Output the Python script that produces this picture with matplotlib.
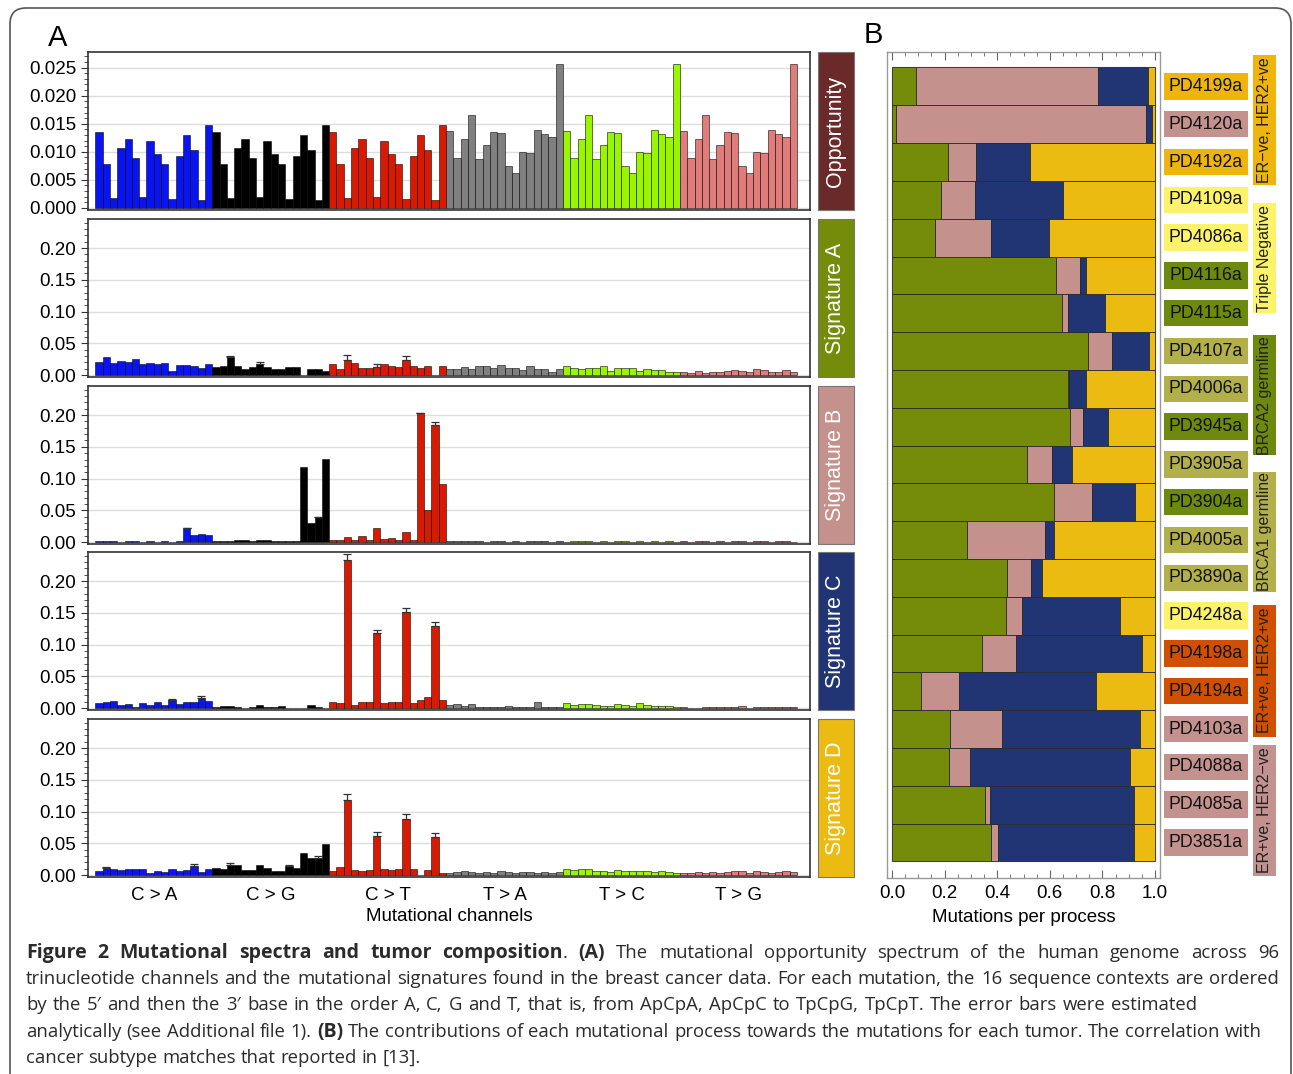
import matplotlib
matplotlib.use("Agg")
import matplotlib.pyplot as plt
import matplotlib.transforms as mtransforms
from matplotlib.patches import Rectangle, FancyBboxPatch
from matplotlib.ticker import MultipleLocator

# ---- panel A data : 96 trinucleotide channels (6 types x 16 contexts) ----
mut_types = ["C > A", "C > G", "C > T", "T > A", "T > C", "T > G"]
type_colours = ["#0a14f0", "#000000", "#d81a02", "#808080", "#99f500", "#e07c7a"]

# opportunity: the C-based and T-based context profiles
opp_c = [0.01347, 0.00777, 0.00166, 0.01074, 0.01229, 0.00884, 0.00184, 0.01187,
         0.00962, 0.00789, 0.00148, 0.00932, 0.01306, 0.01033, 0.00143, 0.01479]
opp_t = [0.01377, 0.00891, 0.01229, 0.01662, 0.00866, 0.01123, 0.01354, 0.01336,
         0.00754, 0.00629, 0.01003, 0.00973, 0.01390, 0.01319, 0.01265, 0.02566]
opportunity = opp_c + opp_c + opp_c + opp_t + opp_t + opp_t

sig_a = [0.0210, 0.0289, 0.0184, 0.0220, 0.0200, 0.0252, 0.0168, 0.0194, 0.0168, 0.0194, 0.0068, 0.0158, 0.0158, 0.0147, 0.0116, 0.0168,
         0.0131, 0.0147, 0.0278, 0.0147, 0.0100, 0.0131, 0.0179, 0.0131, 0.0089, 0.0100, 0.0131, 0.0131, 0.0005, 0.0100, 0.0089, 0.0068,
         0.0168, 0.0100, 0.0236, 0.0194, 0.0110, 0.0110, 0.0131, 0.0173, 0.0147, 0.0121, 0.0236, 0.0142, 0.0116, 0.0147, 0.0005, 0.0142,
         0.0089, 0.0095, 0.0121, 0.0100, 0.0142, 0.0142, 0.0116, 0.0163, 0.0116, 0.0116, 0.0079, 0.0142, 0.0089, 0.0089, 0.0053, 0.0089,
         0.0142, 0.0116, 0.0095, 0.0116, 0.0116, 0.0147, 0.0068, 0.0116, 0.0116, 0.0105, 0.0063, 0.0095, 0.0084, 0.0074, 0.0053, 0.0047,
         0.0042, 0.0026, 0.0068, 0.0037, 0.0053, 0.0053, 0.0063, 0.0084, 0.0068, 0.0053, 0.0100, 0.0084, 0.0053, 0.0042, 0.0084, 0.0053]
sig_b = [0.0020, 0.0010, 0.0020, 0.0005, 0.0020, 0.0020, 0.0005, 0.0020, 0.0005, 0.0020, 0.0005, 0.0020, 0.0215, 0.0110, 0.0120, 0.0105,
         0.0020, 0.0010, 0.0010, 0.0030, 0.0030, 0.0010, 0.0035, 0.0035, 0.0010, 0.0010, 0.0020, 0.0020, 0.1180, 0.0305, 0.0390, 0.1310,
         0.0030, 0.0026, 0.0079, 0.0026, 0.0089, 0.0030, 0.0215, 0.0047, 0.0058, 0.0030, 0.0163, 0.0030, 0.2027, 0.0510, 0.1850, 0.0920,
         0.0010, 0.0015, 0.0010, 0.0012, 0.0010, 0.0008, 0.0010, 0.0012, 0.0008, 0.0010, 0.0008, 0.0010, 0.0012, 0.0010, 0.0008, 0.0010,
         0.0008, 0.0010, 0.0012, 0.0010, 0.0008, 0.0010, 0.0008, 0.0010, 0.0012, 0.0008, 0.0010, 0.0008, 0.0010, 0.0008, 0.0010, 0.0008,
         0.0010, 0.0008, 0.0010, 0.0012, 0.0008, 0.0010, 0.0008, 0.0010, 0.0010, 0.0008, 0.0012, 0.0010, 0.0008, 0.0010, 0.0015, 0.0008]
sig_c = [0.0074, 0.0095, 0.0105, 0.0047, 0.0058, 0.0016, 0.0074, 0.0047, 0.0100, 0.0053, 0.0126, 0.0063, 0.0100, 0.0089, 0.0158, 0.0110,
         0.0016, 0.0037, 0.0032, 0.0016, 0.0005, 0.0010, 0.0053, 0.0016, 0.0016, 0.0026, 0.0005, 0.0005, 0.0005, 0.0042, 0.0016, 0.0005,
         0.0089, 0.0074, 0.2330, 0.0042, 0.0089, 0.0100, 0.1187, 0.0079, 0.0095, 0.0100, 0.1507, 0.0074, 0.0126, 0.0179, 0.1297, 0.0121,
         0.0047, 0.0063, 0.0032, 0.0063, 0.0010, 0.0010, 0.0010, 0.0010, 0.0026, 0.0010, 0.0010, 0.0010, 0.0095, 0.0010, 0.0010, 0.0010,
         0.0074, 0.0047, 0.0058, 0.0058, 0.0042, 0.0037, 0.0026, 0.0063, 0.0053, 0.0037, 0.0074, 0.0047, 0.0037, 0.0037, 0.0032, 0.0021,
         0.0010, 0.0005, 0.0003, 0.0016, 0.0010, 0.0010, 0.0010, 0.0010, 0.0032, 0.0005, 0.0010, 0.0021, 0.0010, 0.0010, 0.0021, 0.0010]
sig_d = [0.0062, 0.0113, 0.0098, 0.0077, 0.0098, 0.0093, 0.0098, 0.0031, 0.0062, 0.0046, 0.0098, 0.0057, 0.0082, 0.0149, 0.0041, 0.0103,
         0.0113, 0.0103, 0.0165, 0.0155, 0.0088, 0.0077, 0.0155, 0.0113, 0.0072, 0.0072, 0.0139, 0.0113, 0.0345, 0.0268, 0.0268, 0.0494,
         0.0062, 0.0134, 0.1180, 0.0082, 0.0072, 0.0077, 0.0615, 0.0098, 0.0077, 0.0093, 0.0880, 0.0103, 0.0005, 0.0077, 0.0600, 0.0036,
         0.0040, 0.0050, 0.0060, 0.0050, 0.0040, 0.0050, 0.0040, 0.0060, 0.0050, 0.0040, 0.0050, 0.0050, 0.0040, 0.0050, 0.0040, 0.0050,
         0.0090, 0.0080, 0.0090, 0.0090, 0.0070, 0.0060, 0.0050, 0.0080, 0.0070, 0.0060, 0.0070, 0.0060, 0.0050, 0.0060, 0.0050, 0.0040,
         0.0040, 0.0040, 0.0050, 0.0040, 0.0050, 0.0040, 0.0050, 0.0060, 0.0060, 0.0040, 0.0060, 0.0050, 0.0040, 0.0050, 0.0060, 0.0050]

# visible error bars (channel index -> error)
err_a = {18: 0.002, 22: 0.002, 34: 0.0074, 38: 0.005, 42: 0.0063}
err_b = {12: 0.001, 30: 0.001, 44: 0.001, 46: 0.0047}
err_c = {10: 0.002, 14: 0.0037, 34: 0.009, 38: 0.005, 42: 0.007, 46: 0.006}
err_d = {1: 0.002, 13: 0.002, 18: 0.002, 26: 0.002, 30: 0.004, 34: 0.009, 38: 0.006, 42: 0.008, 46: 0.006}

strip_names = ["Opportunity", "Signature A", "Signature B", "Signature C", "Signature D"]
strip_colours = ["#6b2a2a", "#758b0a", "#c4918c", "#213574", "#ecbb12"]

# ---- panel B data : fraction of mutations per process ----
samples = ["PD4199a", "PD4120a", "PD4192a", "PD4109a", "PD4086a", "PD4116a", "PD4115a",
           "PD4107a", "PD4006a", "PD3945a", "PD3905a", "PD3904a", "PD4005a", "PD3890a",
           "PD4248a", "PD4198a", "PD4194a", "PD4103a", "PD4088a", "PD4085a", "PD3851a"]
frac_a = [0.091, 0.015, 0.214, 0.186, 0.163, 0.623, 0.647, 0.744, 0.668, 0.676, 0.515,
          0.615, 0.285, 0.437, 0.432, 0.342, 0.110, 0.220, 0.216, 0.354, 0.376]
frac_b = [0.694, 0.950, 0.105, 0.130, 0.215, 0.092, 0.024, 0.094, 0.005, 0.052, 0.094,
          0.146, 0.297, 0.092, 0.063, 0.128, 0.143, 0.198, 0.080, 0.019, 0.027]
frac_c = [0.190, 0.022, 0.205, 0.333, 0.219, 0.023, 0.138, 0.140, 0.065, 0.094, 0.077,
          0.163, 0.033, 0.041, 0.372, 0.481, 0.523, 0.524, 0.609, 0.549, 0.519]
frac_d = [0.025, 0.013, 0.476, 0.351, 0.403, 0.262, 0.191, 0.022, 0.262, 0.178, 0.314,
          0.076, 0.385, 0.430, 0.133, 0.049, 0.224, 0.058, 0.095, 0.078, 0.078]
process_colours = ["#758b0a", "#c4918c", "#213574", "#ecbb12"]

subtype_colour = {"her2": "#efb50c", "tn": "#fdf36a", "brca2": "#6e8a0e",
                  "brca1": "#b3b04c", "erher2": "#d14f00", "erpos": "#c4928e"}
sample_subtype = ["her2", "erpos", "her2", "tn", "tn", "brca2", "brca2", "brca1", "brca1",
                  "brca2", "brca1", "brca2", "brca1", "brca1", "tn", "erher2", "erher2",
                  "erpos", "erpos", "erpos", "erpos"]
groups = ["ER\u2212ve, HER2+ve", "Triple Negative", "BRCA2 germline",
          "BRCA1 germline", "ER+ve, HER2+ve", "ER+ve, HER2\u2212ve"]
group_keys = ["her2", "tn", "brca2", "brca1", "erher2", "erpos"]
group_span = [(-0.83, 2.61), (3.09, 5.99), (6.58, 9.75), (10.2, 13.37), (13.71, 17.2), (17.41, 20.9)]

W, H = 1293, 1074
FONT = "Liberation Sans"


def fx(px):
    return px / W


def fy(py):
    return 1 - py / H


fig = plt.figure(figsize=(W / 100, H / 100), dpi=100)
fig.patch.set_facecolor("white")

# outer frame
frame = FancyBboxPatch((10, -40), 1281, H - 8 + 40, boxstyle="round,pad=0,rounding_size=16",
                       transform=mtransforms.IdentityTransform(), facecolor="none",
                       edgecolor="#555555", linewidth=1.2)
fig.add_artist(frame)

# ---- panel A ----
panel_tops = [52, 219, 386, 552, 719]
panel_h = 158
series = [opportunity, sig_a, sig_b, sig_c, sig_d]
errors = [None, err_a, err_b, err_c, err_d]
x = list(range(96))
bar_colours = [c for c in type_colours for _ in range(16)]

for i, top in enumerate(panel_tops):
    ax = fig.add_axes([fx(88), fy(top + panel_h), fx(810) - fx(88), panel_h / H])
    ax.bar(x, series[i], width=1.0, color=bar_colours, edgecolor=(0, 0, 0, 0.55),
           linewidth=0.7, zorder=3)
    if errors[i]:
        idx = sorted(errors[i])
        ax.errorbar(idx, [series[i][k] for k in idx], yerr=[[0] * len(idx), [errors[i][k] for k in idx]],
                    fmt="none", ecolor="#333333", elinewidth=0.9, capsize=3, capthick=0.9, zorder=4)
    ax.set_xlim(-1.5, 97.3)
    if i == 0:
        ax.set_ylim(-0.0004, 0.0278)
        ax.yaxis.set_minor_locator(MultipleLocator(0.001))
        ax.set_yticks([0, 0.005, 0.010, 0.015, 0.020, 0.025])
        ax.set_yticklabels(["0.000", "0.005", "0.010", "0.015", "0.020", "0.025"])
    else:
        ax.set_ylim(-0.003, 0.2457)
        ax.yaxis.set_minor_locator(MultipleLocator(0.01))
        ax.set_yticks([0, 0.05, 0.10, 0.15, 0.20])
        ax.set_yticklabels(["0.00", "0.05", "0.10", "0.15", "0.20"])
    ax.grid(axis="y", color="#dddddd", linewidth=1.0, zorder=0)
    ax.set_axisbelow(True)
    for s in ax.spines.values():
        s.set_color("#333333")
        s.set_linewidth(1.2)
    ax.tick_params(axis="y", which="major", length=5, width=0.8, labelsize=13.5, color="#333333")
    ax.tick_params(axis="y", which="minor", length=3, width=0.6, color="#333333")
    for lab in ax.get_yticklabels():
        lab.set_fontfamily(FONT)
    if i < 4:
        ax.set_xticks([])
    else:
        ax.set_xticks([7.5 + 16 * g for g in range(6)])
        ax.set_xticklabels(mut_types, fontsize=13.5, fontfamily=FONT)
        ax.tick_params(axis="x", length=0, pad=7)
        ax.set_xlabel("Mutational channels", fontsize=13.5, fontfamily=FONT, labelpad=3)

    # coloured strip on the right
    fig.add_artist(Rectangle((fx(818), fy(top + panel_h)), fx(854) - fx(818), panel_h / H,
                             transform=fig.transFigure, facecolor=strip_colours[i],
                             edgecolor="#777777", linewidth=0.8))
    fig.text(fx(836), fy(top + panel_h / 2), strip_names[i], rotation=90, ha="center", va="center",
             color="white", fontsize=15.5, fontfamily=FONT)

fig.text(fx(58), fy(38), "A", fontsize=21, fontfamily=FONT, ha="center", va="center")
fig.text(fx(873), fy(35), "B", fontsize=21, fontfamily=FONT, ha="center", va="center")

# ---- panel B ----
axb = fig.add_axes([fx(887), fy(878), fx(1160) - fx(887), (878 - 52) / H])
rows = list(range(len(samples)))
left = [0.0] * len(samples)
for vals, col in zip([frac_a, frac_b, frac_c, frac_d], process_colours):
    axb.barh(rows, vals, left=left, height=1.0, color=col, edgecolor="#2a2a2a", linewidth=0.6, zorder=3)
    left = [l + v for l, v in zip(left, vals)]
axb.add_patch(Rectangle((0, -0.5), 1.0, len(samples), fill=False, edgecolor="#cccccc", linewidth=1.0, zorder=2))
axb.set_xlim(-0.019, 1.019)
axb.set_ylim(20.94, -0.91)
axb.set_yticks([])
axb.set_xticks([0, 0.2, 0.4, 0.6, 0.8, 1.0])
axb.set_xticklabels(["0.0", "0.2", "0.4", "0.6", "0.8", "1.0"], fontsize=13.5, fontfamily=FONT)
axb.xaxis.set_minor_locator(MultipleLocator(0.05))
axb.tick_params(axis="x", which="both", direction="in", top=True, bottom=True, color="#666666")
axb.tick_params(axis="x", which="major", length=6, pad=5)
axb.tick_params(axis="x", which="minor", length=3)
axb.set_xlabel("Mutations per process", fontsize=13.5, fontfamily=FONT, labelpad=5)
for s in axb.spines.values():
    s.set_color("#999999")
    s.set_linewidth(1.0)

blend = mtransforms.blended_transform_factory(fig.transFigure, axb.transData)
for r, (name, key) in enumerate(zip(samples, sample_subtype)):
    axb.add_patch(Rectangle((fx(1163.5), r - 0.35), fx(1247.5) - fx(1163.5), 0.70, transform=blend,
                            facecolor=subtype_colour[key], edgecolor="none", clip_on=False))
    axb.text(fx(1205.5), r, name, transform=blend, ha="center", va="center",
             fontsize=12.8, fontfamily=FONT, color="#111111", clip_on=False)
for name, key, (y0, y1) in zip(groups, group_keys, group_span):
    axb.add_patch(Rectangle((fx(1252.5), y0), fx(1276) - fx(1252.5), y1 - y0, transform=blend,
                            facecolor=subtype_colour[key], edgecolor="none", clip_on=False))
    axb.text(fx(1264.5), (y0 + y1) / 2, name, transform=blend, ha="center", va="center",
             rotation=90, fontsize=11.5, fontfamily=FONT, color="#222222", clip_on=False)

# ---- caption (justified lines) ----
caption = [
    (958, 1279, [("Figure 2 Mutational spectra and tumor composition", True), (". ", False), ("(A)", True),
                 (" The mutational opportunity spectrum of the human genome across 96", False)]),
    (984, 1279, [("trinucleotide channels and the mutational signatures found in the breast cancer data. "
                  "For each mutation, the 16 sequence contexts are ordered", False)]),
    (1010, 1197, [("by the 5\u2032 and then the 3\u2032 base in the order A, C, G and T, that is, from ApCpA, "
                   "ApCpC to TpCpG, TpCpT. The error bars were estimated", False)]),
    (1037, 1262, [("analytically (see Additional file 1). ", False), ("(B)", True),
                  (" The contributions of each mutational process towards the mutations for each tumor. "
                   "The correlation with", False)]),
    (1063, None, [("cancer subtype matches that reported in [13].", False)]),
]
cap_fs = 13.3
cap_fs_bold = 14.0
renderer = fig.canvas.get_renderer()
for y_px, x_end, segs in caption:
    words = []
    new_word = True
    for seg, bold in segs:
        parts = seg.split(" ")
        for k, p in enumerate(parts):
            if k > 0:
                new_word = True
            if p == "":
                continue
            if new_word or not words:
                words.append([(p, bold)])
                new_word = False
            else:
                words[-1].append((p, bold))
    placed = []
    for w in words:
        pieces = []
        for txt, bold in w:
            t = fig.text(0, fy(y_px), txt, fontsize=cap_fs_bold if bold else cap_fs,
                         fontfamily="Open Sans", fontweight="bold" if bold else "normal",
                         color="#2b2b2b", ha="left", va="baseline")
            pieces.append((t, t.get_window_extent(renderer).width))
        placed.append(pieces)
    widths = [sum(p[1] for p in w) for w in placed]
    if x_end is None:
        gap = cap_fs * 100 / 72 * 0.26
    else:
        gap = (x_end - 26 - sum(widths)) / (len(placed) - 1)
    cursor = 26
    for w in placed:
        for t, wd in w:
            t.set_x(fx(cursor))
            cursor += wd
        cursor += gap

fig.savefig("out.png", dpi=100)
